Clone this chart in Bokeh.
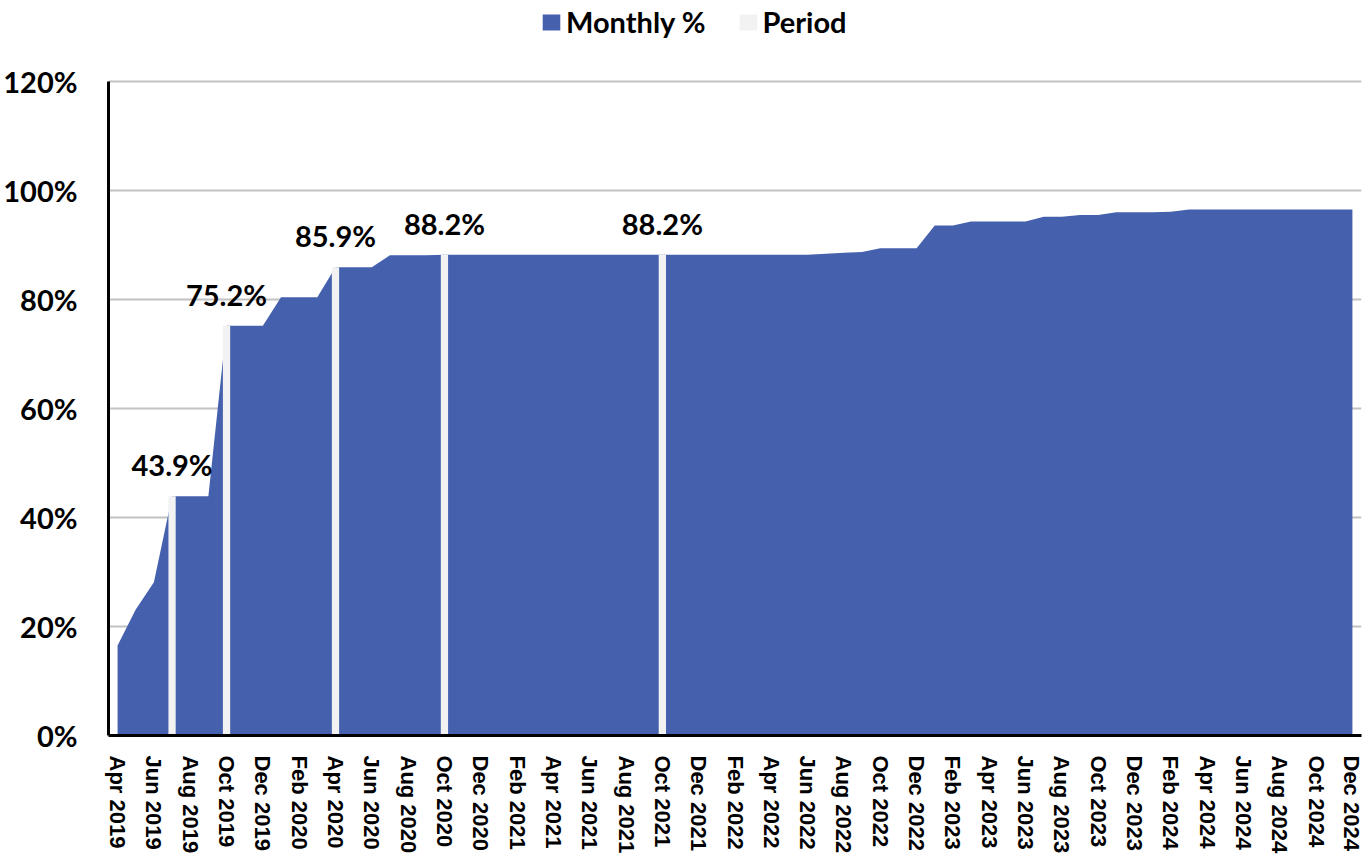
import math
from bokeh.plotting import figure
from bokeh.core.properties import value
from bokeh.models import (ColumnDataSource, FixedTicker, PrintfTickFormatter,
                          LabelSet, Legend, LegendItem, Range1d)
from bokeh.embed import file_html
from bokeh.resources import INLINE

months = [
    "Apr 2019", "May 2019", "Jun 2019", "Jul 2019", "Aug 2019", "Sep 2019",
    "Oct 2019", "Nov 2019", "Dec 2019", "Jan 2020", "Feb 2020", "Mar 2020",
    "Apr 2020", "May 2020", "Jun 2020", "Jul 2020", "Aug 2020", "Sep 2020",
    "Oct 2020", "Nov 2020", "Dec 2020", "Jan 2021", "Feb 2021", "Mar 2021",
    "Apr 2021", "May 2021", "Jun 2021", "Jul 2021", "Aug 2021", "Sep 2021",
    "Oct 2021", "Nov 2021", "Dec 2021", "Jan 2022", "Feb 2022", "Mar 2022",
    "Apr 2022", "May 2022", "Jun 2022", "Jul 2022", "Aug 2022", "Sep 2022",
    "Oct 2022", "Nov 2022", "Dec 2022", "Jan 2023", "Feb 2023", "Mar 2023",
    "Apr 2023", "May 2023", "Jun 2023", "Jul 2023", "Aug 2023", "Sep 2023",
    "Oct 2023", "Nov 2023", "Dec 2023", "Jan 2024", "Feb 2024", "Mar 2024",
    "Apr 2024", "May 2024", "Jun 2024", "Jul 2024", "Aug 2024", "Sep 2024",
    "Oct 2024", "Nov 2024", "Dec 2024",
]

monthly_pct = [
    16.5, 23.1, 28.1, 43.9, 43.9, 43.9,
    75.2, 75.2, 75.2, 80.4, 80.4, 80.4,
    85.9, 85.9, 85.9, 88.1, 88.1, 88.1,
    88.2, 88.2, 88.2, 88.2, 88.2, 88.2,
    88.2, 88.2, 88.2, 88.2, 88.2, 88.2,
    88.2, 88.2, 88.2, 88.2, 88.2, 88.2,
    88.2, 88.2, 88.2, 88.4, 88.6, 88.7,
    89.4, 89.4, 89.4, 93.6, 93.6, 94.3,
    94.3, 94.3, 94.3, 95.2, 95.2, 95.5,
    95.5, 96.0, 96.0, 96.0, 96.1, 96.5,
    96.5, 96.5, 96.5, 96.5, 96.5, 96.5,
    96.5, 96.5, 96.5,
]

period_months = ["Jul 2019", "Oct 2019", "Apr 2020", "Oct 2020", "Oct 2021"]
period_pct = [43.9, 75.2, 85.9, 88.2, 88.2]
period_labels = ["43.9%", "75.2%", "85.9%", "88.2%", "88.2%"]

y_ticks = [0, 20, 40, 60, 80, 100, 120]

x_idx = list(range(len(months)))
period_idx = [months.index(m) for m in period_months]
x_tick_idx = x_idx[::2]

# the frame extends above the 120% line to host the legend
AXIS_PX = 654          # pixel height of the 0..120 axis
HEAD_PX = 81           # room above the axis for the legend
y_top = y_ticks[-1] * (AXIS_PX + HEAD_PX) / AXIS_PX

p = figure(frame_width=1253, frame_height=AXIS_PX + HEAD_PX,
           x_range=Range1d(-0.5, len(months) - 0.5), y_range=Range1d(0, y_top),
           output_backend="svg", toolbar_location=None,
           min_border_left=100, min_border_top=0, min_border_right=2,
           min_border_bottom=0)
p.outline_line_color = None
p.background_fill_color = "white"
p.border_fill_color = "white"

area = p.varea(x=x_idx, y1=[0] * len(x_idx), y2=monthly_pct, fill_color="#4561AE")
bars = p.vbar(x=period_idx, top=period_pct, width=0.4,
              fill_color="#F2F2F2", line_color=None)

# grid
p.xgrid.grid_line_color = None
p.ygrid.ticker = FixedTicker(ticks=y_ticks[1:])
p.ygrid.grid_line_color = "#C2C2C2"
p.ygrid.grid_line_width = 2

# y axis
ya = p.yaxis[0]
ya.ticker = FixedTicker(ticks=y_ticks)
ya.bounds = (y_ticks[0], y_ticks[-1])
ya.formatter = PrintfTickFormatter(format="%d%%")
ya.axis_line_color = "black"
ya.axis_line_width = 3
ya.major_tick_line_color = None
ya.minor_tick_line_color = None
ya.major_label_text_font = "Lato"
ya.major_label_text_font_style = "bold"
ya.major_label_text_font_size = "29px"
ya.major_label_text_color = "black"
ya.major_label_standoff = 25

# x axis
xa = p.xaxis[0]
xa.ticker = FixedTicker(ticks=x_tick_idx)
xa.major_label_overrides = {i: months[i] for i in x_tick_idx}
xa.major_label_orientation = -math.pi / 2
xa.axis_line_color = "black"
xa.axis_line_width = 3
xa.major_tick_line_color = None
xa.minor_tick_line_color = None
xa.major_label_text_font = "Liberation Sans"
xa.major_label_text_font_style = "bold"
xa.major_label_text_font_size = "22px"
xa.major_label_text_color = "black"
xa.major_label_standoff = 14

# data labels
lab_src = ColumnDataSource(dict(x=period_idx, y=period_pct, t=period_labels))
labels = LabelSet(x="x", y="y", text="t", source=lab_src,
                  text_align="center", text_baseline="alphabetic", y_offset=20,
                  text_font=value("Lato"), text_font_style="bold",
                  text_font_size="29px", text_color="black")
p.add_layout(labels)

# legend
legend = Legend(items=[LegendItem(label="Monthly %", renderers=[area]),
                       LegendItem(label="Period", renderers=[bars])],
                orientation="horizontal", location=(432, 696),
                padding=0, margin=0, spacing=31, label_standoff=4,
                glyph_width=22, glyph_height=20, label_height=20,
                border_line_color=None, background_fill_alpha=0,
                label_text_font="Lato", label_text_font_style="bold",
                label_text_font_size="29px", label_text_color="black")
p.add_layout(legend)

open("out.html", "w").write(file_html(p, INLINE))
